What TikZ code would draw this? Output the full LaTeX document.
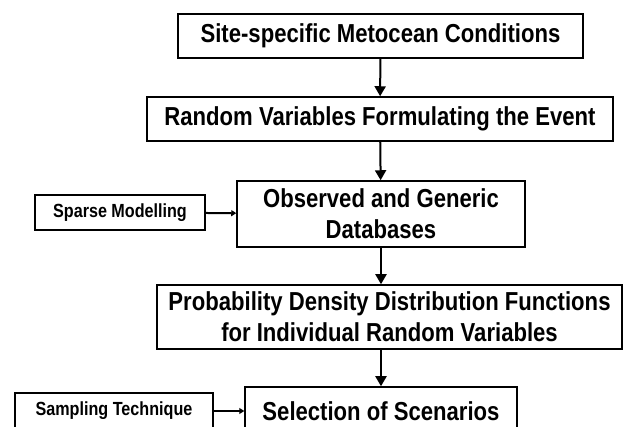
\documentclass[tikz,border=0pt]{standalone}
\usepackage{fontspec}
\setmainfont{Liberation Sans}[FakeStretch=0.85]
\usetikzlibrary{arrows.meta}

\begin{document}
\begin{tikzpicture}[x=1pt,y=-1pt]
\useasboundingbox (0,0) rectangle (624,427);
\clip (0,0) rectangle (624,427);
\begin{scope}[every node/.style={draw,line width=1.5pt,align=center,inner sep=0pt,
              font=\bfseries\fontsize{26}{31}\selectfont}]
    \node[minimum width=405pt,minimum height=44pt] (c1) at (380.5,36) {Site-specific Metocean Conditions};
    \node[minimum width=466pt,minimum height=44pt] (c2) at (380,119) {Random Variables Formulating the Event};
    \node[minimum width=288pt,minimum height=66pt] (c3) at (381,214) {Observed and Generic\\Databases};
    \node[minimum width=465pt,minimum height=64pt] (c4) at (389.5,317) {Probability Density Distribution Functions\\for Individual Random Variables};
    \node[minimum width=272pt,minimum height=48pt] (c5) at (381,411) {Selection of Scenarios};
\end{scope}
\begin{scope}[every node/.style={draw,line width=1.5pt,inner sep=0pt,
              font=\bfseries\fontsize{19}{23}\selectfont}]
    \node[minimum width=170pt,minimum height=35pt] (s1) at (120,212.5) {Sparse Modelling};
    \node[minimum width=198pt,minimum height=36pt] (s2) at (114,411) {Sampling Technique};
\end{scope}
\begin{scope}[line width=2pt]
    \draw[-{Triangle[length=10pt,width=11pt]}] (c1) -- (c2);
    \draw[-{Triangle[length=10pt,width=11pt]}] (c2) -- (c3);
    \draw[-{Triangle[length=10pt,width=11pt]}] (c3.south) -- (c3.south |- c4.north);
    \draw[-{Triangle[length=10pt,width=11pt]}] (c5.north |- c4.south) -- (c5.north);
    \draw[-{Triangle[length=5pt,width=6pt]}] (s1) -- (c3);
    \draw[-{Triangle[length=5pt,width=6pt]}] (s2) -- (c5);
\end{scope}
\end{tikzpicture}
\end{document}
